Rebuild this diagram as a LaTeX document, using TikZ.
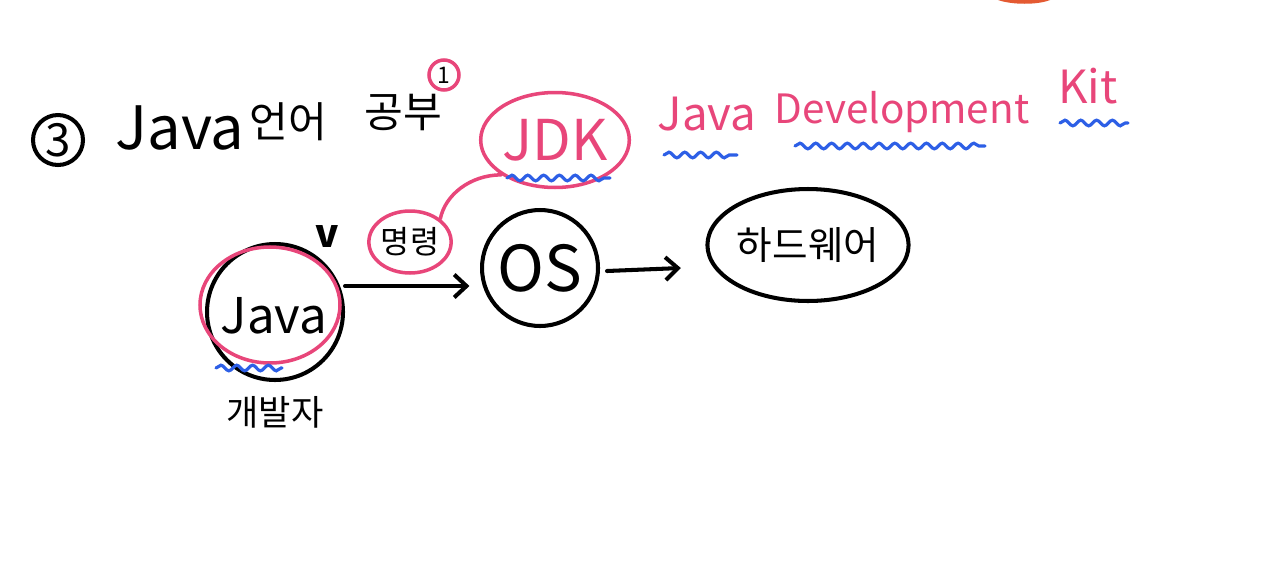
\documentclass[tikz,border=0pt]{standalone}
\usepackage{fontspec}
\setmainfont{Noto Sans CJK KR}
\usetikzlibrary{arrows.meta, decorations.pathmorphing, shapes.geometric}

\definecolor{penpink}{RGB}{232,70,122}
\definecolor{penblue}{RGB}{45,95,230}
\definecolor{penorange}{RGB}{228,90,50}

\tikzset{
  ink/.style={black, line width=2.3pt, line cap=round, line join=round},
  pinkink/.style={penpink, line width=2pt, line cap=round},
  wave/.style={penblue, line width=1.8pt, line cap=round,
    decorate, decoration={snake, amplitude=1.6pt, segment length=9pt}},
  barb/.style={ink, -{Straight Barb[length=7pt, width=13pt, line width=2.3pt]}},
  fs/.style={font=\fontsize{#1}{#1}\selectfont}
}

\begin{document}
\begin{tikzpicture}[x=0.02cm, y=-0.02cm]
\useasboundingbox[fill=white] (0,0) rectangle (1273,585);

% orange mark at the top edge
\fill[penorange] (998,0) .. controls (1012,5) and (1038,5) .. (1050,0) -- cycle;

% title
\node[ink, draw, circle, minimum size=1cm, inner sep=0pt, fs=26pt] (num) at (58,140) {3};
\node[fs=34pt] (title) at (180,128) {Java};
\node[fs=24pt] (lang) at (288,122) {언어};
\node[fs=24pt] (study) at (403,112) {공부};
\node[pinkink, draw, circle, minimum size=0.6cm, inner sep=0pt, fs=13pt, text=black] (one) at (444,75) {1};

% JDK and its meaning
\node[pinkink, draw, ellipse, minimum width=2.5cm, minimum height=1.9cm, inner sep=0pt,
      text=penpink, fs=32pt] (jdk) at (555,140) {JDK};
\node[text=penpink, fs=26pt] (wj) at (707,114) {Java};
\node[text=penpink, fs=23pt] (wd) at (902,112) {Development};
\node[text=penpink, fs=26pt] (wk) at (1088,86) {Kit};
\draw[wave] (507,178) -- (610,178);
\draw[wave] (664,155) -- (737,155);
\draw[wave] (795,146) -- (985,146);
\draw[wave] (1060,123) -- (1128,123);

% flow
\node[ink, draw, circle, minimum size=2.72cm, inner sep=0pt] (java) at (275,312) {};
\node[fs=28pt] (javatxt) at (274,316) {Java};
\draw[pinkink] (270,305) ellipse (70 and 58);
\draw[wave] (216,368) -- (282,368);
\node[fs=20pt] (dev) at (275,412) {개발자};
\node[font=\fontsize{22pt}{22pt}\selectfont\bfseries] (check) at (327,236) {v};

\node[pinkink, draw, ellipse, minimum width=1.64cm, minimum height=1.24cm,
      inner sep=0pt, text=black, fs=18pt] (cmd) at (410,242) {명령};
\draw[pinkink] (cmd.north east) .. controls (445,195) and (470,175) .. (jdk.south west);

\node[ink, draw, circle, minimum size=2.32cm, inner sep=0pt, fs=36pt] (os) at (540,268) {OS};
\node[ink, draw, ellipse, minimum width=3.6cm, minimum height=2.24cm,
      inner sep=0pt, fs=22pt] (hw) at (808,245) {하드웨어};

\draw[barb] (java.east |- 0,286) -- ([xshift=-6pt]os.west |- 0,286);
\draw[barb] ([xshift=4pt]os.east |- 0,271) -- ([xshift=-14pt]hw.west |- 0,268);

\end{tikzpicture}
\end{document}
